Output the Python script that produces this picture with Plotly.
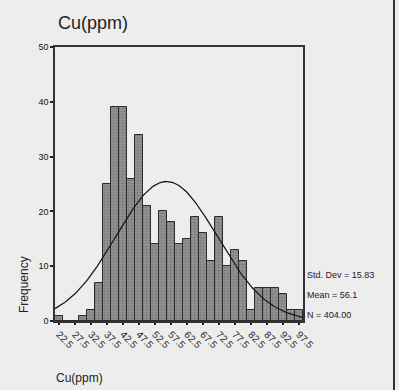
import numpy as np
import plotly.graph_objects as go

# Data (bin width 2.5)
bin_centers = [22.5, 25, 27.5, 30, 32.5, 35, 37.5, 40, 42.5, 45, 47.5, 50, 52.5, 55,
               57.5, 60, 62.5, 65, 67.5, 70, 72.5, 75, 77.5, 80, 82.5, 85, 87.5, 90,
               92.5, 95, 97.5]
counts = [1, 0, 0, 1, 2, 7, 25, 39, 39, 26, 34, 21, 14, 20,
          18, 14, 15, 19, 16, 11, 19, 10, 13, 11, 2, 6, 6, 6,
          5, 2, 2]
tick_vals = [22.5, 27.5, 32.5, 37.5, 42.5, 47.5, 52.5, 57.5, 62.5, 67.5, 72.5,
             77.5, 82.5, 87.5, 92.5, 97.5]
tick_text = ["22.5", "27.5", "32.5", "37.5", "42.5", "47.5", "52.5", "57.5", "62.5",
             "67.5", "72.5", "77.5", "82.5", "87.5", "92.5", "97.5"]
y_ticks = [0, 10, 20, 30, 40, 50]
std_dev = 15.83
mean = 56.1
n_total = 404
bin_width = 2.5

font = "Liberation Sans, Arial, sans-serif"
bg = "#ededed"

xs = np.linspace(21.25, 98.75, 200)
ys = n_total * bin_width / (std_dev * np.sqrt(2 * np.pi)) * np.exp(-0.5 * ((xs - mean) / std_dev) ** 2)

fig = go.Figure()
fig.add_trace(go.Bar(
    x=bin_centers, y=counts, width=bin_width,
    marker=dict(color="#8a8a8a", line=dict(color="#2a2a2a", width=1),
                pattern=dict(shape=".", fgcolor="#555555", bgcolor="#949494", size=3, solidity=0.3)),
    showlegend=False, hoverinfo="skip"))
fig.add_trace(go.Scatter(x=xs, y=ys, mode="lines", line=dict(color="#1a1a1a", width=1.3),
                         showlegend=False, hoverinfo="skip"))

W, H = 399 - 55 - 96, 390 - 47 - 69
def px(x): return (x - 55) / W
def py(y): return (390 - 69 - y) / H

def ann(text, x, y, size, xanchor="left", angle=0):
    return dict(text=text, x=px(x), y=py(y), xref="paper", yref="paper", showarrow=False,
                xanchor=xanchor, yanchor="middle", textangle=angle,
                font=dict(size=size, family=font, color="#222"))

fig.update_layout(
    width=399, height=390,
    margin=dict(l=55, r=96, t=47, b=69),
    paper_bgcolor=bg, plot_bgcolor=bg,
    bargap=0,
    font=dict(family=font, color="#222222"),
    xaxis=dict(range=[21.25, 98.75], tickvals=tick_vals, ticktext=tick_text,
               tickangle=45, ticks="outside", ticklen=2, tickwidth=2, tickcolor="#222",
               tickfont=dict(size=10, family=font, color="#222"), automargin=False,
               showgrid=False, zeroline=False, showline=True, linecolor="#333",
               linewidth=1.5, mirror=True),
    yaxis=dict(range=[0, 50], tickvals=y_ticks, ticks="outside", ticklen=3, tickwidth=2,
               tickcolor="#222", tickfont=dict(size=9, family=font, color="#111"),
               automargin=False,
               showgrid=False, zeroline=False, showline=True, linecolor="#333",
               linewidth=1.5, mirror=True),
    annotations=[
        ann("Cu(ppm)", 56, 23, 18),
        ann("Frequency", 24, 285, 12, xanchor="center", angle=-90),
        ann("Cu(ppm)", 54, 378, 12),
        ann(f"Std. Dev = {std_dev:.2f}", 305, 275, 9),
        ann(f"Mean = {mean:.1f}", 305, 295, 9),
        ann(f"N = {n_total:.2f}", 305, 315, 9),
    ],
)

fig.add_shape(type="line", xref="paper", yref="paper", x0=px(394), x1=px(394),
              y0=py(0), y1=py(390), line=dict(color="#333", width=2))

fig.write_html("out.html", config={"displayModeBar": False},
               post_script="document.body.style.margin='0';document.body.style.overflow='hidden';")
